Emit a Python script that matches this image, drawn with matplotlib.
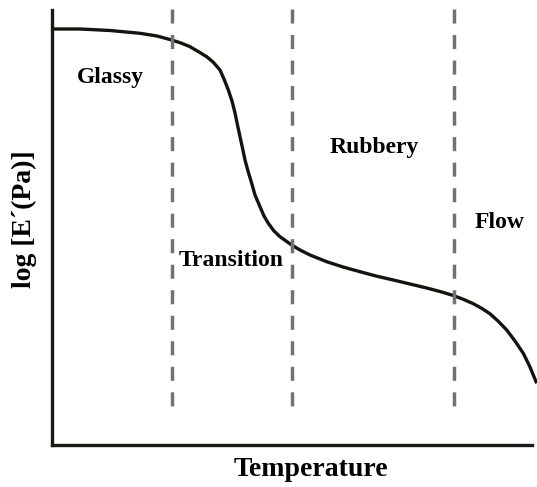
import numpy as np
import matplotlib.pyplot as plt

# ========== Data ==========
temp = [0, 28, 58, 88, 105, 119.7, 129, 138, 147, 154.7, 161, 168, 172, 176.3, 180,
        183, 185.5, 188, 190.5, 193, 196, 199.7, 203, 208, 212, 216.3, 222, 228, 234,
        239.7, 248, 258, 274.7, 291, 308, 324, 341.3, 358, 374.7, 388, 401.3, 411,
        421.3, 430, 438, 446, 454.7, 463, 471.3, 478, 484.7]
log_mod = [416, 416, 414.5, 411.7, 409, 405, 402, 398.3, 393, 388.3, 383, 375, 366, 355, 344,
           332, 320, 308.3, 297, 285, 274, 261.7, 250, 238.3, 229, 221.7, 214, 208.3, 204,
           200, 195, 190, 183.3, 178, 173.3, 169, 165, 161, 157, 153.5, 149.5, 145.8,
           141.3, 136.5, 131.2, 124, 115, 104, 91.7, 78, 61.7]
bounds = [119.5, 239.5, 401.5]
regions = ['Glassy', 'Transition', 'Rubbery', 'Flow']
region_x = [58, 179, 322, 448]
region_y = [368, 185, 298, 223]

# ========== Plot ==========
plt.rcParams['font.family'] = ['Liberation Serif', 'DejaVu Serif']
fig = plt.figure(figsize=(5.37, 4.87), dpi=100)
ax = fig.add_axes([52 / 537, 42 / 487, 480 / 537, 435 / 487])

ax.plot(temp, log_mod, color='#14140f', lw=2.4, clip_on=False,
        solid_capstyle='butt', solid_joinstyle='round')
for b in bounds:
    ax.plot([b, b], [436, 38], color='#727272', lw=2.5, ls=(0, (4.05, 3.3)), clip_on=False)

for name, x, y in zip(regions, region_x, region_y):
    ax.text(x, y, name, ha='center', va='center', fontsize=17, fontweight='bold')

ax.set_xlim(0, 480)
ax.set_ylim(0, 435)
ax.set_xticks([])
ax.set_yticks([])
for side in ['top', 'right']:
    ax.spines[side].set_visible(False)
for side in ['left', 'bottom']:
    ax.spines[side].set_linewidth(2.4)
    ax.spines[side].set_color('#1a1a14')

ax.set_xlabel('Temperature', fontsize=20, fontweight='bold')
ax.set_ylabel('log [E\u00b4(Pa)]', fontsize=20, fontweight='bold')
ax.xaxis.set_label_coords(0.54, -0.028)
ax.yaxis.set_label_coords(-0.032, 0.52)

fig.savefig('out.png', dpi=100)
